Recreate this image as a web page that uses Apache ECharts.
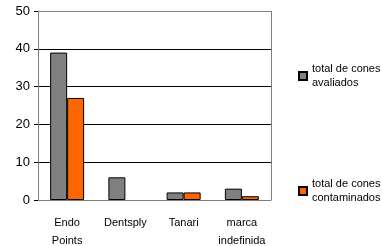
<!DOCTYPE html>
<html>
<head>
<meta charset="utf-8">
<script src="https://cdn.jsdelivr.net/npm/echarts@6/dist/echarts.min.js"></script>
<style>
  html, body { margin: 0; padding: 0; background: #fff; }
  #chart { width: 382px; height: 246px; }
</style>
</head>
<body>
<div id="chart"></div>
<script>
const brands = ['Endo\nPoints', 'Dentsply', 'Tanari', 'marca\nindefinida']
const avaliados = [39, 6, 2, 3]
const contaminados = [27, 0, 2, 1]
const yTicks = [0, 10, 20, 30, 40, 50]

const font = "'Liberation Sans', Arial, sans-serif"

const chart = echarts.init(document.getElementById('chart'))

const legendBase = {
  orient: 'vertical',
  left: 298,
  padding: 0,
  itemWidth: 8,
  itemHeight: 8,
  itemGap: 4,
  icon: 'rect',
  selectedMode: false,
  textStyle: {
    fontFamily: font,
    fontSize: 11,
    color: '#000',
    lineHeight: 14,
    padding: [0, 0, 14, 0]
  }
}

chart.setOption({
  animation: false,
  backgroundColor: '#fff',
  legend: [
    { ...legendBase, top: 55, data: ['total de cones\navaliados'] },
    { ...legendBase, top: 170, data: ['total de cones\ncontaminados'] }
  ],
  grid: {
    left: 38,
    right: 111,
    top: 11,
    bottom: 46,
    outerBoundsMode: 'none'
  },
  xAxis: {
    type: 'category',
    data: brands,
    axisLine: { lineStyle: { color: '#808080', width: 1 } },
    axisTick: { length: 4, lineStyle: { color: '#000' } },
    axisLabel: {
      interval: 0,
      fontFamily: font,
      fontSize: 11,
      color: '#000',
      lineHeight: 18,
      margin: 14
    }
  },
  yAxis: {
    type: 'value',
    min: 0,
    max: 50,
    interval: 10,
    axisLine: { show: true, lineStyle: { color: '#808080', width: 1 } },
    axisTick: { show: true, length: 4, lineStyle: { color: '#000' } },
    axisLabel: {
      fontFamily: font,
      fontSize: 13,
      color: '#000',
      margin: 8,
      formatter: v => yTicks.includes(v) ? String(v) : ''
    },
    splitLine: {
      lineStyle: { color: ['#000', '#000', '#000', '#000', '#000', '#808080'], width: 1 }
    }
  },
  series: [
    {
      name: 'total de cones\navaliados',
      type: 'bar',
      data: avaliados.map(v => v || null),
      barWidth: 17,
      barGap: '0%',
      itemStyle: { color: '#808080', borderColor: '#000', borderWidth: 1 }
    },
    {
      name: 'total de cones\ncontaminados',
      type: 'bar',
      data: contaminados.map(v => v || null),
      barWidth: 17,
      itemStyle: { color: '#ff6600', borderColor: '#000', borderWidth: 1 }
    }
  ],
  graphic: [
    {
      type: 'line',
      shape: { x1: 271.5, y1: 11, x2: 271.5, y2: 200 },
      style: { stroke: '#808080', lineWidth: 1 }
    }
  ]
})
</script>
</body>
</html>
